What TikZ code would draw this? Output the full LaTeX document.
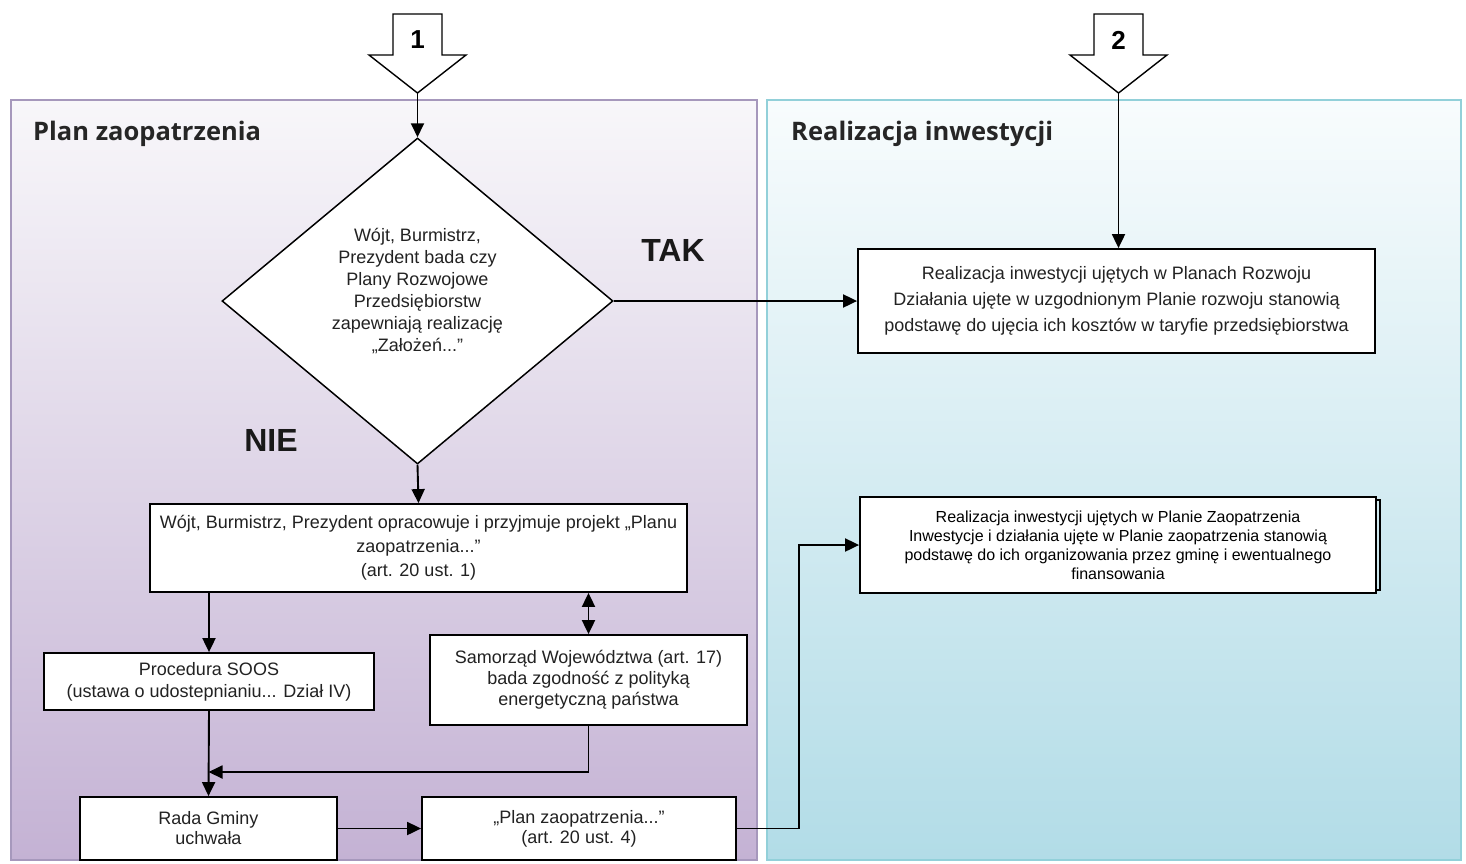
\documentclass[tikz,border=0pt]{standalone}
\usepackage{fontspec}
\setmainfont{Liberation Sans}
\newfontfamily\titlefont{Open Sans}
\usetikzlibrary{shapes.geometric,arrows.meta,calc}
\definecolor{lpTop}{HTML}{F8F7FA}
\definecolor{lpBot}{HTML}{C4B2D4}
\definecolor{lpBorder}{HTML}{A698BC}
\definecolor{rpTop}{HTML}{F8FCFD}
\definecolor{rpBot}{HTML}{B2DCE7}
\definecolor{rpBorder}{HTML}{92D0D9}
\definecolor{txt}{HTML}{222222}
\begin{document}
\begin{tikzpicture}[x=1pt,y=-1pt,
  tip/.tip={Triangle[length=14pt,width=13pt]},
  conn/.style={line width=1.9pt,-tip},
  dconn/.style={line width=1.9pt,tip-tip},
  bigarrow/.style={draw,line width=1.4pt,fill=white},
  panel title/.style={font=\titlefont\bfseries\fontsize{25.5}{30}\selectfont,text=black!85,anchor=west,inner sep=0},
  box/.style={draw,line width=1.8pt,fill=white,align=center,text=txt,inner sep=0},
  dec/.style={font=\bfseries\fontsize{32}{36}\selectfont,text=black!90,inner sep=0},
  num/.style={font=\bfseries\fontsize{26}{30}\selectfont,inner sep=0},
  f18/.style={font=\fontsize{18}{#1}\selectfont},
]
\useasboundingbox (0,0) rectangle (1466,863);
\fill[white] (0,0) rectangle (1466,863);
% panels
\shade[top color=lpTop,bottom color=lpBot] (11,100) rectangle (757,860);
\draw[lpBorder,line width=1.5pt] (11,100) rectangle (757,860);
\shade[top color=rpTop,bottom color=rpBot] (767,100) rectangle (1461,860);
\draw[rpBorder,line width=1.5pt] (767,100) rectangle (1461,860);
\node[panel title] (t1) at (33,134) {Plan zaopatrzenia};
\node[panel title] (t2) at (791,134) {Realizacja inwestycji};
% big entry arrows
\draw[bigarrow] (393,14) -- (442,14) -- (442,55) -- (466,55) -- (417.5,93) -- (369,55) -- (393,55) -- cycle;
\coordinate (a1) at (417.5,93);
\node[num] (n1) at (417.5,40) {1};
\draw[bigarrow] (1094,14) -- (1143,14) -- (1143,55) -- (1167,55) -- (1118.5,93) -- (1070,55) -- (1094,55) -- cycle;
\coordinate (a2) at (1118.5,93);
\node[num] (n2) at (1118.5,40) {2};
% decision
\node[diamond,draw,line width=1.5pt,fill=white,minimum width=391pt,minimum height=326pt,inner sep=0,
  label={[align=center,text=txt,f18=22,yshift=10pt]center:Wójt, Burmistrz,\\Prezydent bada czy\\Plany Rozwojowe\\Przedsiębiorstw\\zapewniają realizację\\„Założeń...”}] (d) at (417.5,301) {};
\node[dec] (tak) at (673,250) {TAK};
\node[dec] (nie) at (271,440) {NIE};
% right boxes
\node[box,f18=26,minimum width=517pt,minimum height=104pt] (boxA) at (1116.5,301) {Realizacja inwestycji ujętych w Planach Rozwoju\\Działania ujęte w uzgodnionym Planie rozwoju stanowią\\podstawę do ujęcia ich kosztów w taryfie przedsiębiorstwa};
\node[box,font=\fontsize{16}{19}\selectfont,text=black,minimum width=516pt,minimum height=96pt] (boxB) at (1118,545) {Realizacja inwestycji ujętych w Planie Zaopatrzenia\\Inwestycje i działania ujęte w Planie zaopatrzenia stanowią\\podstawę do ich organizowania przez gminę i ewentualnego\\finansowania};
\draw[line width=1.3pt] ([yshift=-4pt]boxB.north east) -- ++(3,0) |- ([yshift=4pt]boxB.south east);
% left boxes
\node[box,f18=24,minimum width=537pt,minimum height=88pt] (b3) at (418.5,548) {Wójt, Burmistrz, Prezydent opracowuje i przyjmuje projekt „Planu\\zaopatrzenia...”\\(art. 20 ust. 1)};
\node[box,f18=22,minimum width=330pt,minimum height=57pt] (soos) at (209,681.5) {Procedura SOOS\\(ustawa o udostepnianiu... Dział IV)};
\node[box,f18=21,minimum width=317pt,minimum height=90pt] (samo) at (588.5,680) {Samorząd Województwa (art. 17)\\bada zgodność z polityką\\energetyczną państwa};
\node[box,f18=20,minimum width=257pt,minimum height=63pt] (rada) at (208.5,828.5) {Rada Gminy\\uchwała};
\node[box,f18=20,minimum width=314pt,minimum height=63pt] (plan) at (579,828.5) {„Plan zaopatrzenia...”\\(art. 20 ust. 4)};
% connectors
\draw[conn] (a1) -- (d.north);
\draw[conn] (a2) -- (boxA.north -| a2);
\draw[conn] (d.east) -- (d.east -| boxA.west);
\draw[conn] (d.south) -- (b3.north);
\draw[conn] (b3.south -| soos.north) -- (soos.north);
\draw[dconn] (b3.south -| samo.north) -- (samo.north);
\draw[conn] (soos.south) -- (rada.north);
\coordinate (join) at (rada.north |- 0,772);
\draw[conn] (samo.south) |- (join);
\draw[conn] (rada.east) -- (plan.west);
\draw[conn] (plan.east) -- ++(62,0) |- (boxB.west);
\end{tikzpicture}
\end{document}
